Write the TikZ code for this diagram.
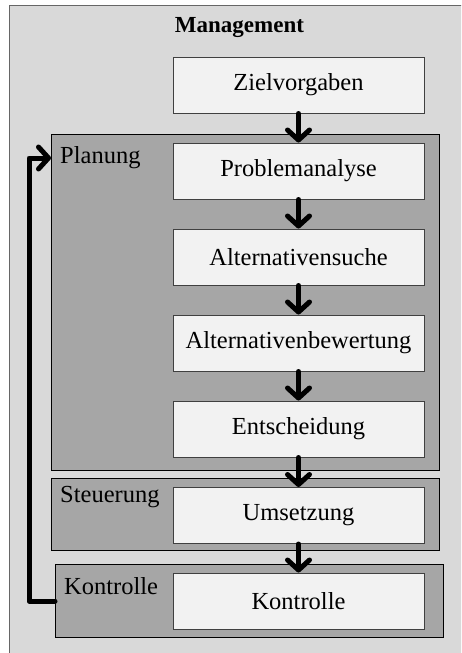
\documentclass[tikz,border=0pt]{standalone}
\usepackage{fontspec}
\setmainfont{Liberation Serif}
\usetikzlibrary{arrows.meta}
\definecolor{outerfill}{HTML}{D9D9D9}
\definecolor{groupfill}{HTML}{A6A6A6}
\definecolor{boxfill}{HTML}{F2F2F2}
\definecolor{boxline}{HTML}{404040}
\tikzset{
  stepbox/.style={draw=boxline, line width=1pt, fill=boxfill,
    minimum width=251pt, minimum height=56pt, inner sep=0pt,
    font=\fontsize{24.5}{28}\selectfont},
  groupbox/.style={draw=black, line width=1pt, fill=groupfill},
  grouplabel/.style={anchor=west, inner sep=0pt, font=\fontsize{24.5}{28}\selectfont},
  flow/.style={line width=5pt, line cap=round, line join=round,
    -{Straight Barb[length=10pt,width=22pt,line cap=round,line join=round]}}
}
\begin{document}
\begin{tikzpicture}[x=1pt,y=-1pt]
  \useasboundingbox (0,0) rectangle (461,653);
  \clip (0,0) rectangle (461,653);
  \fill[white] (0,0) rectangle (461,653);
  % management frame, running past the right and bottom edges
  \draw[fill=outerfill, draw=black!60, line width=1pt] (9,5) rectangle (480,680);
  \node[font=\bfseries\fontsize{23}{27}\selectfont] (mgmt) at (239.5,28) {Management};

  % phase groups
  \draw[groupbox] (51,134) rectangle (439,470);
  \coordinate (pgrpw) at (51,158);
  \draw[groupbox] (51,478) rectangle (439,550);
  \draw[groupbox] (55,564) rectangle (443,637);
  \coordinate (kgrpw) at (55,601);

  \node[grouplabel] (lplan) at (60,158) {Planung};
  \node[grouplabel] (lsteu) at (60,497) {Steuerung};
  \node[grouplabel] (lkon) at (64,586) {Kontrolle};

  % process steps
  \node[stepbox] (ziel) at (298.5,85) {Zielvorgaben};
  \node[stepbox] (prob) at (298.5,171) {Problemanalyse};
  \node[stepbox] (such) at (298.5,257) {Alternativensuche};
  \node[stepbox] (bew)  at (298.5,343) {Alternativenbewertung};
  \node[stepbox] (ent)  at (298.5,429) {Entscheidung};
  \node[stepbox] (ums)  at (298.5,515.5) {Umsetzung};
  \node[stepbox] (kon)  at (298.5,601) {Kontrolle};

  % flow between steps
  \draw[flow] (ziel.south) -- (prob.north);
  \draw[flow] (prob.south) -- (such.north);
  \draw[flow] (such.south) -- (bew.north);
  \draw[flow] (bew.south) -- (ent.north);
  \draw[flow] (ent.south) -- (ums.north);
  \draw[flow] (ums.south) -- (kon.north);

  % feedback from control back to planning
  \draw[flow] (kgrpw) -- ++(-26,0) |- (pgrpw);
\end{tikzpicture}
\end{document}
